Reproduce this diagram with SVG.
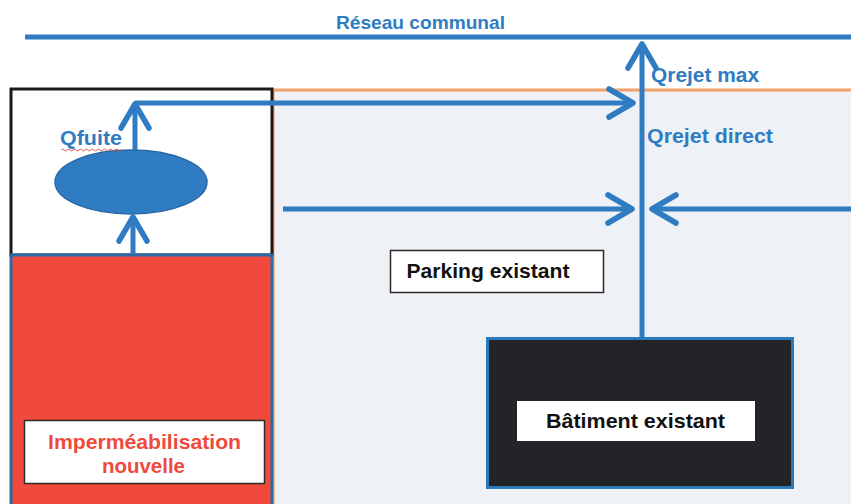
<svg xmlns="http://www.w3.org/2000/svg" width="851" height="504" viewBox="0 0 851 504">
<style>
.flow{stroke:#2f7cc3;stroke-width:5;fill:none}
.lbl{font-family:"Liberation Sans",Arial,sans-serif;font-weight:bold;font-size:21px}
.blue{fill:#2f7cc3}
</style>
<defs>
<marker id="chev" markerUnits="userSpaceOnUse" viewBox="-30 -18 34 36" refX="0" refY="0" markerWidth="34" markerHeight="36" orient="auto">
<path d="M-25,-14 L-1,0 L-25,14" fill="none" stroke="#2f7cc3" stroke-width="5.5" stroke-linecap="round" stroke-linejoin="round"/>
</marker>
</defs>
<rect width="851" height="504" fill="#ffffff"/>
<g id="parking-zone">
<rect x="273" y="90" width="590" height="430" fill="#eef1f5" stroke="#f4a06a" stroke-width="3"/>
</g>
<g id="bassin-zone">
<rect x="11" y="89" width="261" height="166" fill="#ffffff" stroke="#1a1a1a" stroke-width="3"/>
</g>
<g id="impermeabilisation">
<rect x="11" y="255" width="261" height="260" fill="#ef4a3b" stroke="#2a6aa6" stroke-width="3"/>
<rect x="24.5" y="420.5" width="240" height="63" fill="#ffffff" stroke="#2b2b2b" stroke-width="1.5"/>
<text class="lbl" x="144.5" y="449" text-anchor="middle" fill="#ef4a3b" textLength="193" lengthAdjust="spacingAndGlyphs">Imperméabilisation</text>
<text class="lbl" x="143.5" y="473" text-anchor="middle" fill="#ef4a3b" textLength="83" lengthAdjust="spacingAndGlyphs">nouvelle</text>
</g>
<g id="reseau">
<line x1="25" y1="37" x2="851" y2="37" stroke="#2f7cc3" stroke-width="5"/>
<text class="lbl blue" x="420.5" y="29" text-anchor="middle" style="font-size:19px" textLength="169" lengthAdjust="spacingAndGlyphs">Réseau communal</text>
</g>
<g id="bassin">
<ellipse cx="131" cy="182" rx="76" ry="32" fill="#2f7cc3" stroke="#2a68a8" stroke-width="1.5"/>
</g>
<g id="parking-label">
<rect x="390.5" y="250.5" width="213" height="42" fill="#ffffff" stroke="#2b2b2b" stroke-width="1.5"/>
<text class="lbl" x="488" y="278" text-anchor="middle" fill="#111" textLength="163" lengthAdjust="spacingAndGlyphs">Parking existant</text>
</g>
<g id="batiment">
<rect x="487.5" y="338.5" width="305" height="149" fill="#232428" stroke="#2c78bd" stroke-width="3"/>
<rect x="517" y="401" width="238" height="40" fill="#ffffff"/>
<text class="lbl" x="635.5" y="428" text-anchor="middle" fill="#111" textLength="179" lengthAdjust="spacingAndGlyphs">Bâtiment existant</text>
</g>
<g id="connectors">
<path class="flow" d="M133,254 L133,216" marker-end="url(#chev)"/>
<path class="flow" d="M135,150 L135,103" marker-end="url(#chev)"/>
<path class="flow" d="M135,103 L634,103" marker-end="url(#chev)"/>
<path class="flow" d="M642,338 L642,43" marker-end="url(#chev)"/>
<path class="flow" d="M283,209 L633,209" marker-end="url(#chev)"/>
<path class="flow" d="M851,209 L651,209" marker-end="url(#chev)"/>
</g>
<g id="labels">
<text class="lbl blue" x="60" y="145" textLength="62" lengthAdjust="spacingAndGlyphs">Qfuite</text>
<path d="M61,150 q1.5,-2 3,0 t3,0 t3,0 t3,0 t3,0 t3,0 t3,0 t3,0 t3,0 t3,0 t3,0 t3,0 t3,0 t3,0 t3,0 t3,0 t3,0 t3,0 t3,0 t3,0" fill="none" stroke="#e0483a" stroke-width="0.9"/>
<text class="lbl blue" x="651" y="82" textLength="108" lengthAdjust="spacingAndGlyphs">Qrejet max</text>
<text class="lbl blue" x="647" y="143" textLength="126" lengthAdjust="spacingAndGlyphs">Qrejet direct</text>
</g>
</svg>
